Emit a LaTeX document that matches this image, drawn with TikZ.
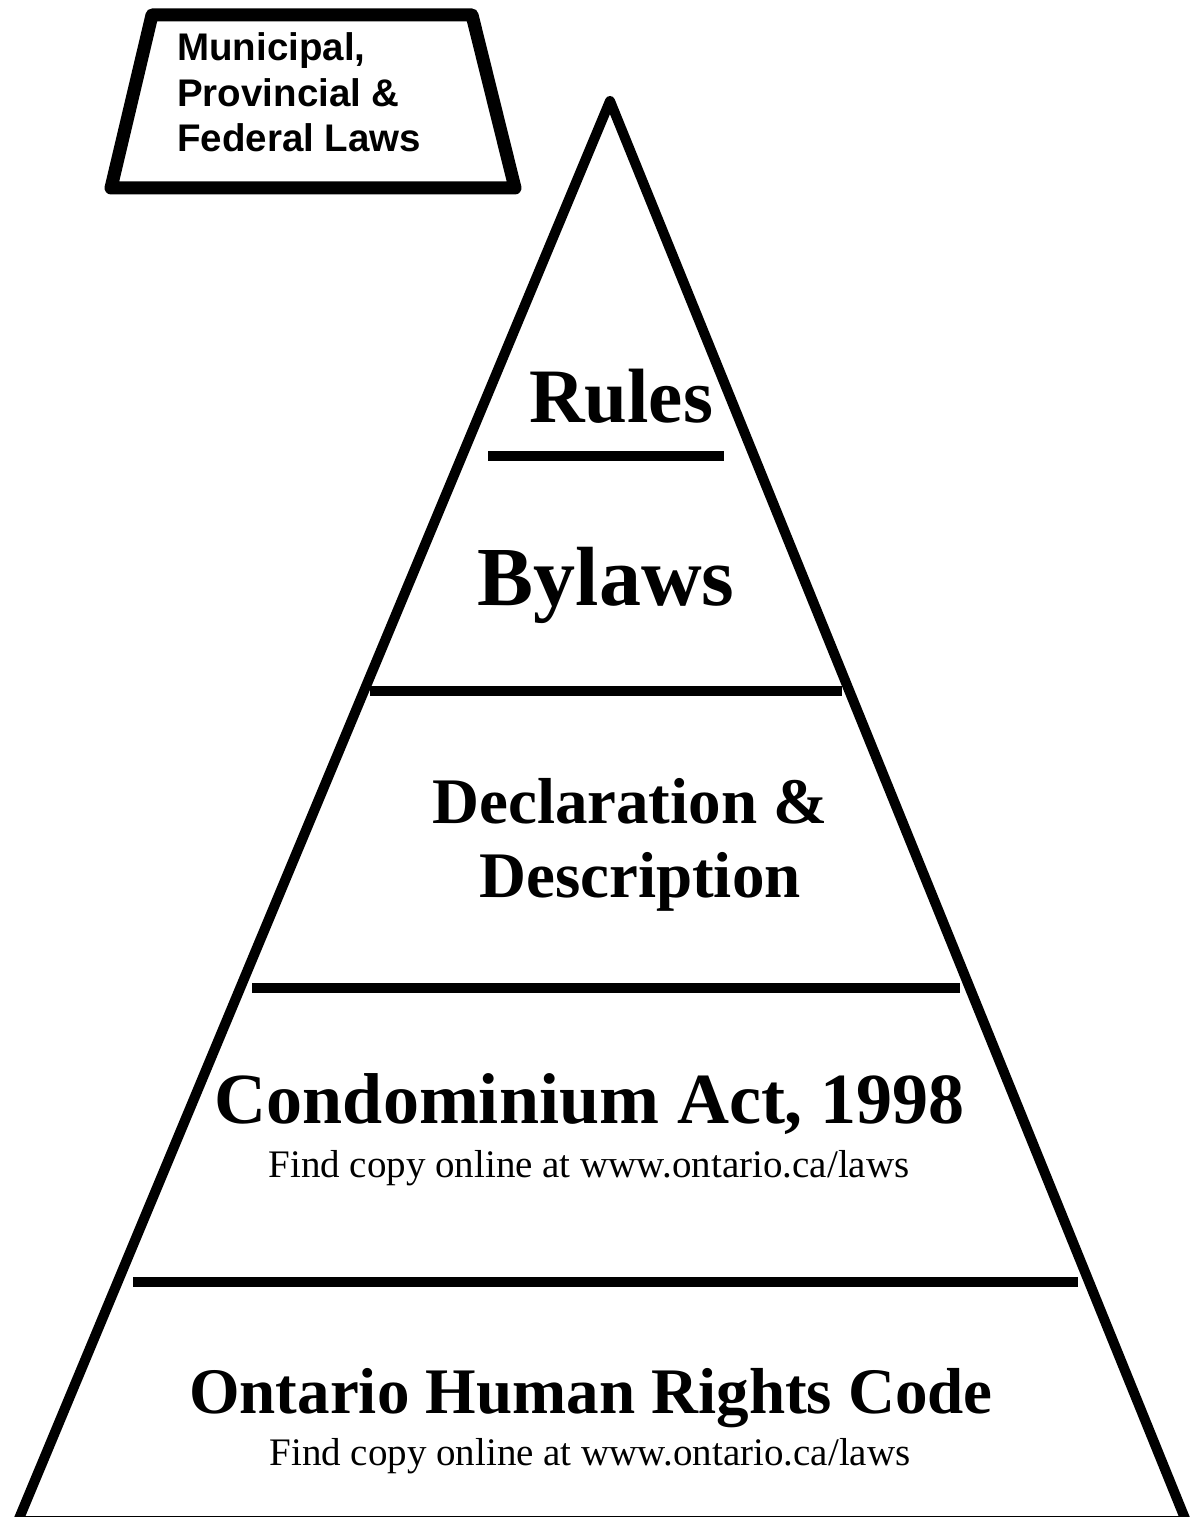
\documentclass[tikz,border=0pt]{standalone}
\usepackage{fontspec}
\setmainfont{Liberation Serif}
\newfontfamily\arialb{Liberation Sans}
\begin{document}
\begin{tikzpicture}[x=1pt,y=-1pt,
  outline/.style={draw=black,line width=10pt,line join=round},
  tierbar/.style={draw=black,line width=10.5pt},
  bigtxt/.style={anchor=base,inner sep=0pt,font=\bfseries\fontsize{#1}{#1}\selectfont},
  smalltxt/.style={anchor=base,inner sep=0pt,font=\fontsize{39}{39}\selectfont},
  lawbox/.style={draw=black,line width=13pt,line join=round}]
\useasboundingbox (0,0) rectangle (1193,1517);
% pyramid
\coordinate (apex) at (610,101);
\coordinate (bl) at (18,1521);
\coordinate (br) at (1186,1521);
\draw[outline] (apex) -- (br) -- (bl) -- cycle;
% tier separators
\coordinate (r1) at (488,456); \coordinate (r2) at (724,456);
\coordinate (b1) at (370,691); \coordinate (b2) at (842,691);
\coordinate (d1) at (252,988); \coordinate (d2) at (960,988);
\coordinate (c1) at (133,1282); \coordinate (c2) at (1078,1282);
\draw[tierbar] (r1) -- (r2);
\draw[tierbar] (b1) -- (b2);
\draw[tierbar] (d1) -- (d2);
\draw[tierbar] (c1) -- (c2);
% tier labels
\node[bigtxt=77] (rules) at (621,422) {Rules};
\node[bigtxt=84] (bylaws) at (606,605) {Bylaws};
\node[bigtxt=65] (decl) at (630,823) {Declaration \&};
\node[bigtxt=65] (desc) at (640,897) {Description};
\node[bigtxt=72] (condo) at (590,1123) {Condominium Act, 1998};
\node[smalltxt] (find1) at (589,1177) {Find copy online at www.ontario.ca/laws};
\node[bigtxt=65] (ohrc) at (591,1413) {Ontario Human Rights Code};
\node[smalltxt] (find2) at (590,1465) {Find copy online at www.ontario.ca/laws};
% law box
\coordinate (t1) at (152,15); \coordinate (t2) at (472,15);
\coordinate (t3) at (515,188); \coordinate (t4) at (111,188);
\draw[lawbox] (t1) -- (t2) -- (t3) -- (t4) -- cycle;
\node[anchor=base west,inner sep=0pt,align=left,
      font=\arialb\bfseries\fontsize{38.5}{45.5}\selectfont] (laws) at (177,152)
      {Municipal,\\Provincial \&\\Federal Laws};
\end{tikzpicture}
\end{document}
